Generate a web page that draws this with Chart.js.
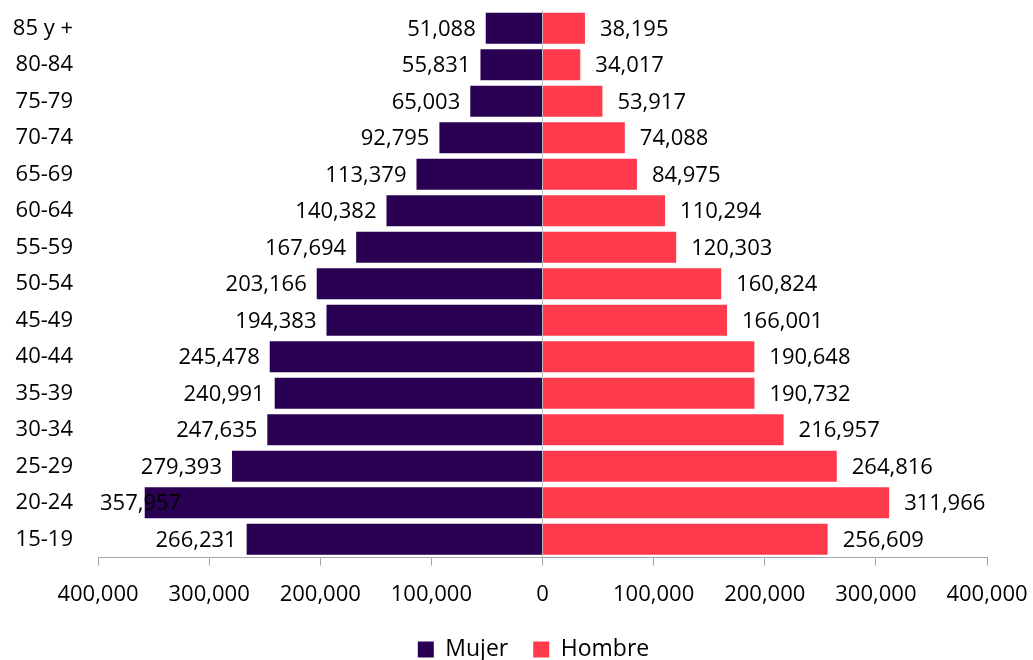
<!DOCTYPE html>
<html lang="es">
<head>
<meta charset="UTF-8">
<title>Pirámide de población</title>
<script src="https://cdn.jsdelivr.net/npm/chart.js"></script>
<style>
  html, body { margin: 0; padding: 0; background: #fff; }
  #wrap { width: 1033px; height: 660px; position: relative; }
</style>
</head>
<body>
<div id="wrap"><canvas id="pyramid"></canvas></div>
<script>
const ageGroups = ['85 y +', '80-84', '75-79', '70-74', '65-69', '60-64', '55-59', '50-54',
  '45-49', '40-44', '35-39', '30-34', '25-29', '20-24', '15-19'];
const mujer = [51088, 55831, 65003, 92795, 113379, 140382, 167694, 203166,
  194383, 245478, 240991, 247635, 279393, 357957, 266231];
const hombre = [38195, 34017, 53917, 74088, 84975, 110294, 120303, 160824,
  166001, 190648, 190732, 216957, 264816, 311966, 256609];

const FONT = "'Open Sans', 'Noto Sans', sans-serif";
const fmt = v => Math.abs(v).toLocaleString('en-US');

// draws the value next to each bar end
const barLabels = {
  id: 'barLabels',
  afterDatasetsDraw(chart) {
    const ctx = chart.ctx;
    const area = chart.chartArea;
    ctx.save();
    ctx.font = '22px ' + FONT;
    ctx.fillStyle = '#000';
    ctx.textBaseline = 'middle';
    ctx.textAlign = 'left';
    chart.data.datasets.forEach((ds, i) => {
      chart.getDatasetMeta(i).data.forEach((bar, j) => {
        const txt = fmt(ds.data[j]);
        const w = ctx.measureText(txt).width;
        let x;
        if (ds.data[j] < 0) {
          x = Math.max(area.left + 2, bar.x - 10 - w);
        } else {
          x = Math.min(area.right - w, bar.x + 15);
        }
        ctx.fillText(txt, x, bar.y + 1);
      });
    });
    ctx.restore();
  }
};

// legend sits a bit right of the canvas middle, centred under the plot
const legendShift = {
  id: 'legendShift',
  afterLayout(chart) {
    const lg = chart.legend;
    const area = chart.chartArea;
    const shift = (area.left + area.right) / 2 - 9 - (lg.left + lg.right) / 2;
    lg.left += shift;
    lg.right += shift;
  }
};

new Chart(document.getElementById('pyramid'), {
  type: 'bar',
  data: {
    labels: ageGroups,
    datasets: [
      { label: 'Mujer', data: mujer.map(v => -v), backgroundColor: '#290052', categoryPercentage: 1, barPercentage: 0.85 },
      { label: 'Hombre', data: hombre, backgroundColor: '#FF3A4C', categoryPercentage: 1, barPercentage: 0.85 }
    ]
  },
  options: {
    indexAxis: 'y',
    responsive: true,
    maintainAspectRatio: false,
    animation: false,
    layout: { padding: { left: 8, right: 46, top: 10, bottom: -11 } },
    scales: {
      x: {
        stacked: true,
        min: -400000,
        max: 400000,
        afterFit: s => { s.paddingLeft = 0; s.paddingRight = 0; s.height -= 11; },
        ticks: {
          stepSize: 100000,
          color: '#000',
          padding: 16,
          font: { family: FONT, size: 22 },
          callback: v => fmt(v)
        },
        grid: {
          color: c => (c.tick && c.tick.value === 0) ? '#bdbdbd' : 'transparent',
          tickColor: '#a6a6a6',
          tickLength: 8,
          lineWidth: 1
        },
        border: { display: true, color: '#a6a6a6' }
      },
      y: {
        stacked: true,
        afterFit: s => { s.width = 90; s.paddingTop = 0; s.paddingBottom = 0; },
        ticks: {
          color: '#000',
          padding: 17,
          font: { family: FONT, size: 22 }
        },
        grid: { display: false },
        border: { display: false }
      }
    },
    plugins: {
      legend: {
        position: 'bottom',
        labels: {
          color: '#000',
          font: { family: FONT, size: 23 },
          boxWidth: 16,
          boxHeight: 16,
          padding: 25
        }
      },
      tooltip: { enabled: false }
    }
  },
  plugins: [barLabels, legendShift]
});
</script>
</body>
</html>
